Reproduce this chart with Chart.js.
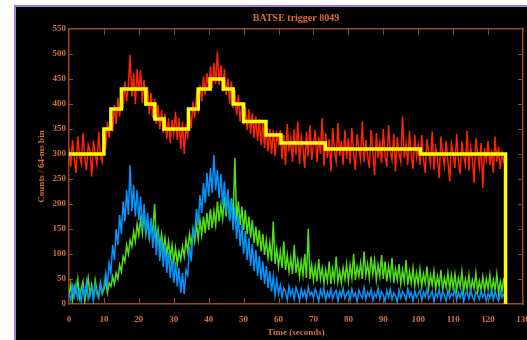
<!DOCTYPE html>
<html>
<head>
<meta charset="utf-8">
<script src="https://cdn.jsdelivr.net/npm/chart.js@4.4.0/dist/chart.umd.min.js"></script>
<style>
html, body { margin: 0; padding: 0; background: #fff; }
canvas { display: block; }
</style>
</head>
<body>
<canvas id="lc" width="527" height="340"></canvas>
<script>
// 0.5 s per point
var binWidth = 0.5;

var totalCounts = [
    312, 275, 328, 290, 262, 335, 298, 281, 342, 295, 268, 318, 306, 255, 326, 301, 279, 345, 296, 284,
    338, 310, 365, 332, 372, 345, 398, 360, 412, 375, 428, 392, 445, 405, 438, 498, 415, 462, 400, 470,
    425, 468, 402, 448, 395, 435, 380, 422, 372, 410, 360, 398, 350, 388, 342, 380, 330, 372, 322, 368,
    340, 385, 328, 372, 310, 365, 300, 352, 335, 380, 352, 405, 372, 415, 390, 438, 405, 455, 418, 462,
    428, 475, 432, 482, 440, 505, 438, 478, 425, 470, 418, 452, 400, 445, 392, 428, 378, 418, 365, 402,
    358, 395, 348, 390, 340, 382, 332, 375, 326, 370, 318, 362, 312, 355, 305, 350, 300, 348, 296, 340,
    322, 348, 290, 338, 278, 360, 305, 332, 284, 350, 298, 365, 280, 335, 312, 272, 345, 295, 358, 288,
    318, 348, 284, 335, 300, 372, 276, 342, 292, 330, 265, 352, 308, 286, 362, 296, 326, 278, 348, 290,
    332, 280, 352, 300, 268, 340, 310, 288, 365, 284, 328, 296, 272, 348, 304, 258, 342, 292, 322, 282,
    350, 296, 274, 358, 306, 288, 340, 265, 334, 300, 284, 375, 292, 320, 278, 346, 298, 270, 338, 294,
    318, 278, 338, 290, 262, 330, 302, 280, 345, 268, 312, 292, 252, 335, 298, 276, 326, 286, 245, 320,
    302, 272, 340, 286, 260, 325, 296, 278, 346, 266, 314, 290, 242, 332, 300, 274, 322, 232, 312, 288,
    326, 278, 308, 262, 335, 284, 315, 270, 302, 282
];

var lowChannel = [
    22, 8, 35, 15, 40, 12, 28, 5, 32, 18, 45, 10, 25, 30, 8, 38, 20, 12, 42, 25,
    35, 62, 38, 82, 62, 118, 88, 150, 118, 178, 140, 205, 165, 228, 178, 278, 186, 238, 175, 228,
    168, 215, 150, 200, 138, 182, 128, 172, 112, 158, 98, 145, 86, 130, 74, 118, 62, 104, 52, 92,
    42, 84, 35, 72, 22, 62, 20, 68, 58, 115, 85, 148, 138, 190, 158, 218, 182, 242, 202, 262,
    215, 272, 222, 298, 228, 268, 212, 260, 198, 245, 182, 230, 165, 212, 148, 195, 130, 178, 116, 160,
    100, 146, 88, 132, 76, 120, 66, 108, 56, 96, 48, 85, 40, 76, 32, 66, 25, 56, 18, 48,
    20, 38, 14, 32, 25, 8, 35, 18, 28, 10, 33, 22, 6, 30, 15, 26, 9, 34, 18, 24,
    12, 30, 20, 5, 28, 16, 32, 8, 24, 14, 30, 10, 22, 27, 6, 25, 15, 31, 11, 20,
    26, 8, 30, 15, 22, 5, 28, 18, 12, 33, 9, 24, 16, 29, 7, 21, 14, 32, 10, 25,
    18, 6, 27, 14, 30, 9, 22, 16, 4, 28, 12, 25, 19, 8, 31, 15, 23, 6, 26, 13,
    20, 28, 7, 24, 15, 30, 10, 18, 26, 5, 22, 14, 29, 9, 25, 17, 6, 27, 12, 21,
    16, 30, 8, 23, 13, 27, 5, 20, 25, 11, 29, 15, 7, 24, 18, 10, 26, 14, 22, 6,
    21, 12, 28, 9, 24, 15, 6, 26, 13, 20
];

var highChannel = [
    15, 40, 8, 35, 22, 50, 12, 30, 45, 5, 28, 52, 18, 38, 10, 48, 25, 14, 42, 20,
    30, 48, 22, 42, 35, 55, 40, 62, 50, 78, 65, 95, 85, 118, 100, 128, 115, 145, 125, 160,
    138, 170, 142, 185, 140, 165, 132, 158, 145, 200, 128, 150, 115, 140, 108, 132, 98, 125, 92, 118,
    85, 112, 80, 105, 88, 115, 95, 128, 105, 140, 118, 150, 125, 160, 130, 168, 138, 175, 142, 182,
    148, 190, 152, 185, 158, 205, 165, 198, 170, 215, 175, 225, 168, 210, 172, 292, 165, 205, 158, 195,
    148, 188, 140, 175, 132, 168, 122, 155, 115, 148, 105, 140, 98, 128, 92, 122, 85, 165, 80, 110,
    75, 105, 72, 125, 68, 98, 65, 92, 60, 118, 62, 88, 55, 85, 58, 100, 52, 150, 50, 78,
    48, 75, 45, 90, 50, 72, 42, 68, 46, 85, 40, 70, 48, 95, 44, 66, 42, 72, 50, 80,
    45, 78, 52, 100, 48, 75, 55, 82, 50, 105, 58, 80, 52, 95, 60, 88, 48, 78, 55, 98,
    50, 85, 45, 76, 52, 92, 42, 70, 48, 80, 40, 68, 45, 88, 38, 65, 42, 72, 36, 62,
    40, 70, 35, 60, 42, 75, 32, 58, 38, 66, 30, 55, 36, 68, 28, 52, 34, 62, 30, 58,
    32, 60, 28, 52, 35, 65, 26, 50, 30, 58, 25, 48, 32, 62, 24, 46, 28, 55, 26, 50,
    30, 58, 24, 48, 28, 60, 22, 45, 26, 52
];

// bayesian blocks: start time and level of each block
var blockStart = [0, 10, 12, 15, 22, 24.6, 27.2, 34.2, 37, 40.4, 44.2, 47, 50, 56.4, 60.7, 73.4, 100.6, 125];
var blockLevel = [300, 350, 390, 430, 400, 370, 350, 390, 430, 450, 430, 400, 365, 338, 322, 310, 300, 0];

var xTickValues = [0, 10, 20, 30, 40, 50, 60, 70, 80, 90, 100, 110, 120, 130];
var yTickValues = [0, 50, 100, 150, 200, 250, 300, 350, 400, 450, 500, 550];

var axisColor = 'rgb(150, 72, 38)';
var textColor = 'rgb(212, 112, 58)';
var fontFam = '"Liberation Serif", "DejaVu Serif", serif';

function toPoints(arr) {
    return arr.map(function(v, i) { return { x: i * binWidth, y: v }; });
}

var blockPoints = blockStart.map(function(t, i) { return { x: t, y: blockLevel[i] }; });

var framePlugin = {
    id: 'frame',
    beforeDraw: function(c) {
        var ctx = c.ctx;
        ctx.save();
        ctx.fillStyle = '#fff';
        ctx.fillRect(0, 0, c.width, c.height);
        ctx.fillStyle = '#000';
        ctx.fillRect(16, 7, c.width - 16, c.height - 7);
        ctx.fillStyle = 'rgb(160, 125, 220)';
        ctx.fillRect(14, 5, 2, c.height - 5);
        ctx.fillRect(14, 5, c.width - 14, 2);
        ctx.restore();
    }
};

// tick marks point into the plot on all four sides
var tickPlugin = {
    id: 'inTicks',
    beforeDatasetsDraw: function(c) {
        var ctx = c.ctx, a = c.chartArea, xs = c.scales.x, ys = c.scales.y;
        ctx.save();
        ctx.strokeStyle = axisColor;
        ctx.lineWidth = 1;
        ctx.beginPath();
        xs.ticks.forEach(function(t) {
            var px = Math.round(xs.getPixelForValue(t.value)) + 0.5;
            if (px <= a.left + 2 || px >= a.right - 2) return;
            ctx.moveTo(px, a.bottom);
            ctx.lineTo(px, a.bottom - 6);
            ctx.moveTo(px, a.top);
            ctx.lineTo(px, a.top + 6);
        });
        ys.ticks.forEach(function(t) {
            var py = Math.round(ys.getPixelForValue(t.value)) + 0.5;
            if (py <= a.top + 2 || py >= a.bottom - 2) return;
            ctx.moveTo(a.left, py);
            ctx.lineTo(a.left + 4, py);
            ctx.moveTo(a.right, py);
            ctx.lineTo(a.right - 5, py);
        });
        ctx.stroke();
        ctx.restore();
    }
};

var tickFont = { family: fontFam, size: 9, weight: 'bold' };

function noEdgePad(s) {
    s.paddingLeft = 0;
    s.paddingRight = 0;
}

new Chart(document.getElementById('lc'), {
    type: 'line',
    data: {
        datasets: [
            { label: 'Blocks', data: blockPoints, borderColor: 'rgb(255, 255, 0)', borderWidth: 3.5, stepped: 'before', xAxisID: 'x', yAxisID: 'y' },
            { label: 'Total', data: toPoints(totalCounts), borderColor: 'rgb(255, 35, 0)', borderWidth: 1.5, xAxisID: 'x', yAxisID: 'y' },
            { label: 'Low', data: toPoints(lowChannel), borderColor: 'rgb(0, 150, 255)', borderWidth: 1.5, xAxisID: 'x', yAxisID: 'y' },
            { label: 'High', data: toPoints(highChannel), borderColor: 'rgb(80, 225, 20)', borderWidth: 1.5, xAxisID: 'x', yAxisID: 'y' }
        ]
    },
    options: {
        responsive: false,
        animation: false,
        events: [],
        layout: { padding: { left: 0, right: 4, top: 0, bottom: 0 } },
        elements: {
            point: { radius: 0 },
            line: { tension: 0, fill: false }
        },
        plugins: {
            legend: { display: false },
            tooltip: { enabled: false },
            title: {
                display: true,
                fullSize: false,
                text: 'BATSE trigger 8049',
                color: textColor,
                font: { family: fontFam, size: 10, weight: 'bold' },
                padding: { top: 12, bottom: 0 }
            }
        },
        scales: {
            x: {
                type: 'linear', position: 'bottom', min: 0, max: 130,
                afterBuildTicks: function(s) { s.ticks = xTickValues.map(function(v) { return { value: v }; }); },
                afterFit: function(s) { s.height = 36; noEdgePad(s); },
                grid: { display: false, drawTicks: false },
                border: { display: true, color: axisColor, width: 1.5 },
                ticks: { color: textColor, font: tickFont, padding: 10, maxRotation: 0, autoSkip: false },
                title: { display: true, text: 'Time (seconds)', color: textColor, font: tickFont, padding: { top: 0, bottom: 2 } }
            },
            xTop: {
                type: 'linear', position: 'top', min: 0, max: 130,
                afterFit: function(s) { s.height = 5; noEdgePad(s); },
                grid: { display: false, drawTicks: false },
                border: { display: true, color: axisColor, width: 1.5 },
                ticks: { display: false }
            },
            y: {
                type: 'linear', position: 'left', min: 0, max: 550,
                afterBuildTicks: function(s) { s.ticks = yTickValues.map(function(v) { return { value: v }; }); },
                afterFit: function(s) { s.width = 69; },
                grid: { display: false, drawTicks: false },
                border: { display: true, color: axisColor, width: 1.5 },
                ticks: { color: textColor, font: tickFont, padding: 3, autoSkip: false },
                title: { display: true, text: 'Counts / 64-ms bin', color: textColor, font: tickFont, padding: { top: 36, bottom: 0 } }
            },
            yRight: {
                type: 'linear', position: 'right', min: 0, max: 550,
                afterFit: function(s) { s.width = 0; },
                grid: { display: false, drawTicks: false },
                border: { display: true, color: axisColor, width: 1.5 },
                ticks: { display: false }
            }
        }
    },
    plugins: [framePlugin, tickPlugin]
});
</script>
</body>
</html>
